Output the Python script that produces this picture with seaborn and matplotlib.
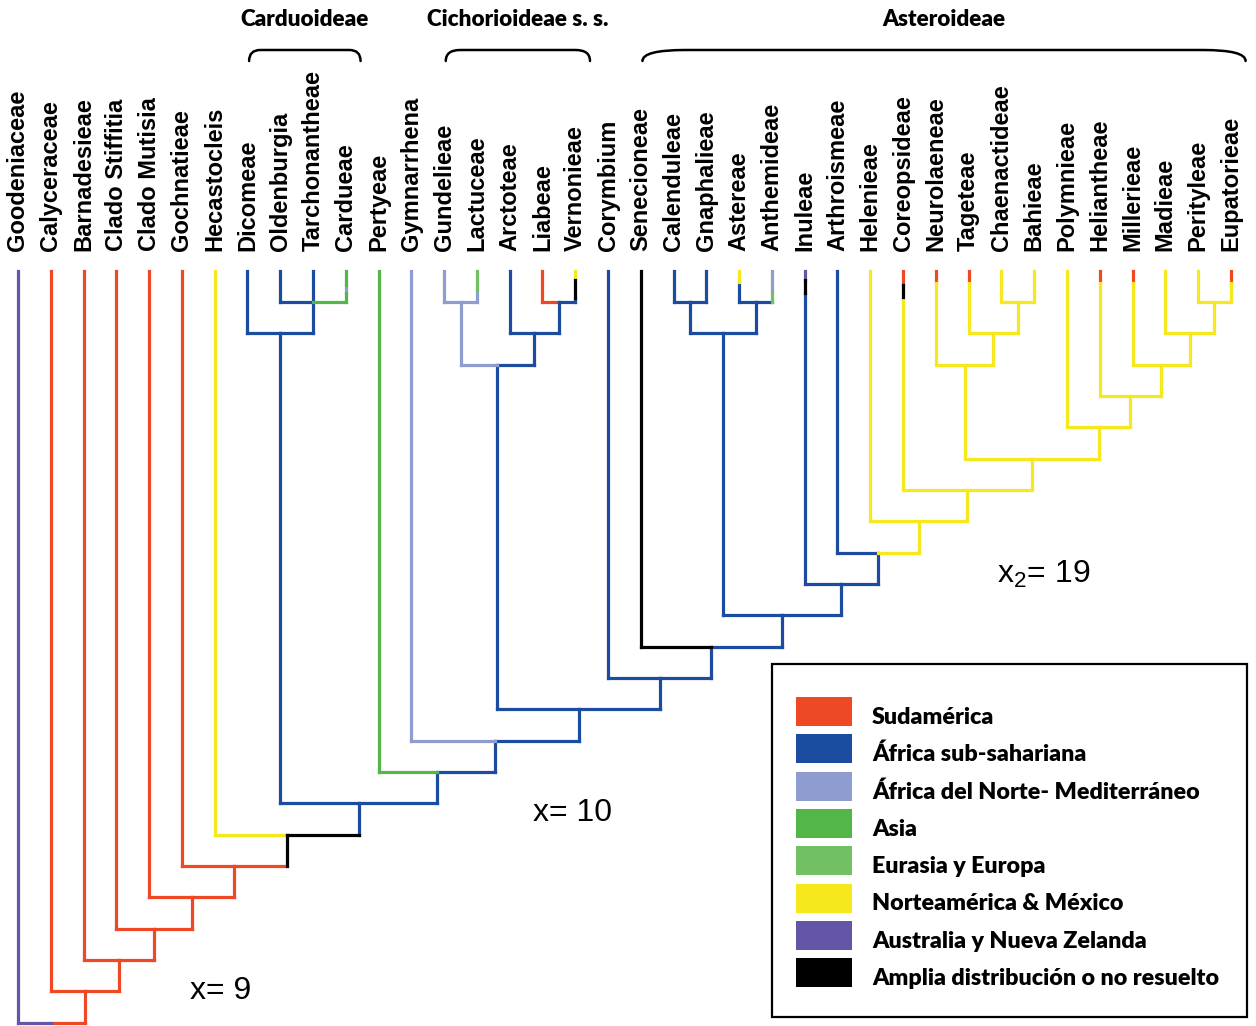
import matplotlib
matplotlib.use("Agg")
import matplotlib.pyplot as plt
import numpy as np
import pandas as pd
import seaborn as sns
from matplotlib.path import Path
from matplotlib.patches import PathPatch, Rectangle

# ---------------------------------------------------------------- data
taxa = ["Goodeniaceae", "Calyceraceae", "Barnadesieae", "Clado Stiffitia", "Clado Mutisia",
        "Gochnatieae", "Hecastocleis", "Dicomeae", "Oldenburgia", "Tarchonantheae",
        "Cardueae", "Pertyeae", "Gymnarrhena", "Gundelieae", "Lactuceae", "Arctoteae",
        "Liabeae", "Vernonieae", "Corymbium", "Senecioneae", "Calenduleae", "Gnaphalieae",
        "Astereae", "Anthemideae", "Inuleae", "Arthroismeae", "Helenieae", "Coreopsideae",
        "Neurolaeneae", "Tageteae", "Chaenactideae", "Bahieae", "Polymnieae", "Heliantheae",
        "Millerieae", "Madieae", "Perityleae", "Eupatorieae"]

# colour bands along each terminal branch: (region, depth where the band ends);
# None means the band runs down to the parent node
tip_regions = [
    [("AUS", None)],
    [("SA", None)], [("SA", None)], [("SA", None)], [("SA", None)], [("SA", None)],
    [("NAM", None)],
    [("AF", None)], [("AF", None)], [("AF", None)],
    [("AS", 0.45), ("NMED", 0.72), ("AS", None)],
    [("AS", None)],
    [("NMED", None)],
    [("NMED", None)],
    [("EU", 0.62), ("NMED", None)],
    [("AF", None)],
    [("SA", None)],
    [("NAM", 0.3), ("WIDE", 0.88), ("AF", None)],
    [("AF", None)],
    [("WIDE", None)],
    [("AF", None)], [("AF", None)],
    [("NAM", 0.35), ("AF", None)],
    [("NMED", 0.68), ("EU", None)],
    [("AUS", 0.3), ("WIDE", 0.72), ("AF", None)],
    [("AF", None)],
    [("NAM", None)],
    [("SA", 0.45), ("WIDE", 0.85), ("NAM", None)],
    [("SA", 0.38), ("NAM", None)],
    [("SA", 0.38), ("NAM", None)],
    [("NAM", None)], [("NAM", None)], [("NAM", None)],
    [("SA", 0.38), ("NAM", None)],
    [("SA", 0.38), ("NAM", None)],
    [("NAM", None)], [("NAM", None)],
    [("SA", 0.38), ("NAM", None)],
]

# internal nodes in post-order: rank level, children, colour left / right of the
# node on the connecting bar, colour of the stem below the node
node_ids = ["Card3", "Carduo", "GuLa", "LiVe", "ArLV", "Cichor", "CaGn", "AsAn", "CGAA",
            "ChBa", "TaCB", "NeTC", "PeEu", "MaPE", "MiMP", "HeMi", "PoHe", "Helian",
            "CoHe", "HlCo", "ArHl", "InAr", "Aster", "SeAs", "CoSe", "CiCo", "GyCi",
            "PeGy", "CdPe", "HeCd", "GoHe", "MuGo", "StMu", "BaSt", "CaBa", "root"]
node_levels = [1, 2, 1, 1, 2, 3, 1, 1, 2,
               1, 2, 3, 1, 2, 3, 4, 5, 6,
               7, 8, 9, 10, 11, 12, 13, 14, 15,
               16, 17, 18, 19, 20, 21, 22, 23, 24]
node_children = [
    ["Oldenburgia", "Tarchonantheae", "Cardueae"], ["Dicomeae", "Card3"],
    ["Gundelieae", "Lactuceae"], ["Liabeae", "Vernonieae"], ["Arctoteae", "LiVe"],
    ["GuLa", "ArLV"], ["Calenduleae", "Gnaphalieae"], ["Astereae", "Anthemideae"],
    ["CaGn", "AsAn"], ["Chaenactideae", "Bahieae"], ["Tageteae", "ChBa"],
    ["Neurolaeneae", "TaCB"], ["Perityleae", "Eupatorieae"], ["Madieae", "PeEu"],
    ["Millerieae", "MaPE"], ["Heliantheae", "MiMP"], ["Polymnieae", "HeMi"],
    ["NeTC", "PoHe"], ["Coreopsideae", "Helian"], ["Helenieae", "CoHe"],
    ["Arthroismeae", "HlCo"], ["Inuleae", "ArHl"], ["CGAA", "InAr"],
    ["Senecioneae", "Aster"], ["Corymbium", "SeAs"], ["Cichor", "CoSe"],
    ["Gymnarrhena", "CiCo"], ["Pertyeae", "GyCi"], ["Carduo", "PeGy"],
    ["Hecastocleis", "CdPe"], ["Gochnatieae", "HeCd"], ["Clado Mutisia", "GoHe"],
    ["Clado Stiffitia", "MuGo"], ["Barnadesieae", "StMu"], ["Calyceraceae", "BaSt"],
    ["Goodeniaceae", "CaBa"]]
node_left = ["AF", "AF", "NMED", "SA", "AF", "NMED", "AF", "AF", "AF",
             "NAM", "NAM", "NAM", "NAM", "NAM", "NAM", "NAM", "NAM", "NAM",
             "NAM", "NAM", "AF", "AF", "AF", "WIDE", "AF", "AF", "NMED",
             "AS", "AF", "NAM", "SA", "SA", "SA", "SA", "SA", "AUS"]
node_right = ["AS", "AF", "NMED", "AF", "AF", "AF", "AF", "AF", "AF",
              "NAM", "NAM", "NAM", "NAM", "NAM", "NAM", "NAM", "NAM", "NAM",
              "NAM", "NAM", "NAM", "AF", "AF", "AF", "AF", "AF", "AF",
              "AF", "AF", "WIDE", "SA", "SA", "SA", "SA", "SA", "SA"]
node_stem = ["AF", "AF", "NMED", "AF", "AF", "AF", "AF", "AF", "AF",
             "NAM", "NAM", "NAM", "NAM", "NAM", "NAM", "NAM", "NAM", "NAM",
             "NAM", "NAM", "AF", "AF", "AF", "AF", "AF", "AF", "AF",
             "AF", "AF", "WIDE", "SA", "SA", "SA", "SA", "SA", None]

region_codes = ["SA", "AF", "NMED", "AS", "EU", "NAM", "AUS", "WIDE"]
region_labels = ["Sudamérica", "África sub-sahariana", "África del Norte- Mediterráneo",
                 "Asia", "Eurasia y Europa", "Norteamérica & México",
                 "Australia y Nueva Zelanda", "Amplia distribución o no resuelto"]
region_colors = ["#EE4824", "#1B4C9F", "#8F9CD0", "#52B747", "#72C064", "#F7E81E",
                 "#6455A6", "#000000"]

clade_names = ["Carduoideae", "Cichorioideae s. s.", "Asteroideae"]
clade_first = ["Dicomeae", "Gundelieae", "Senecioneae"]
clade_last = ["Cardueae", "Vernonieae", "Eupatorieae"]

chromosome_labels = ["x= 9", "x= 10", r"x$_{\mathregular{2}}$= 19"]

# ---------------------------------------------------------------- layout
W, H, DPI = 1256, 1026, 100
X0, DX = 18.0, 32.78      # pixel column of first tip, pixels per tip
Y0, DY = 270.7, 31.33     # pixel row of the tips, pixels per rank level


def px2x(px):
    return (px - X0) / DX


def px2y(py):
    return (py - Y0) / DY


sns.set_theme(style="white")
plt.rcParams["font.family"] = ["Liberation Sans", "DejaVu Sans"]

fig = plt.figure(figsize=(W / DPI, H / DPI), dpi=DPI)
ax = fig.add_axes([0, 0, 1, 1])

# tree geometry
pos = {name: float(i) for i, name in enumerate(taxa)}
level = {name: 0.0 for name in taxa}
parent = {}
for nid, lvl, ch in zip(node_ids, node_levels, node_children):
    pos[nid] = float(np.mean([pos[c] for c in ch]))
    level[nid] = float(lvl)
    for c in ch:
        parent[c] = nid

rows = []


def add_segment(x0, y0, x1, y1, region):
    sid = len(rows) // 2
    rows.append((sid, x0, y0, region))
    rows.append((sid, x1, y1, region))


for nid, ch, left, right, stem in zip(node_ids, node_children, node_left, node_right, node_stem):
    xs = [pos[c] for c in ch]
    add_segment(min(xs), level[nid], pos[nid], level[nid], left)
    add_segment(pos[nid], level[nid], max(xs), level[nid], right)
    if stem is not None and nid in parent:
        add_segment(pos[nid], level[nid], pos[nid], level[parent[nid]], stem)

for name, bands in zip(taxa, tip_regions):
    top = 0.0
    for region, end in bands:
        bottom = level[parent[name]] if end is None else end
        add_segment(pos[name], top, pos[name], bottom, region)
        top = bottom

segments = pd.DataFrame(rows, columns=["seg", "x", "y", "region"])
palette = dict(zip(region_codes, region_colors))

sns.lineplot(data=segments, x="x", y="y", hue="region", hue_order=region_codes,
             units="seg", estimator=None, sort=False, palette=palette, legend=False,
             linewidth=2.3, solid_capstyle="projecting", ax=ax)

ax.set_xlim(px2x(0), px2x(W))
ax.set_ylim(px2y(H), px2y(0))
ax.set_axis_off()

# tip labels
for name in taxa:
    ax.text(pos[name], px2y(251), name, rotation=90, ha="center", va="bottom",
            fontsize=17, fontweight="bold", family="Liberation Sans", color="black")

renderer = fig.canvas.get_renderer()
HEAVY = 800


def fitted_size(text, target_px, **kw):
    t = fig.text(0, 0, text, fontsize=10, **kw)
    w = t.get_window_extent(renderer=renderer).width
    t.remove()
    return 10.0 * target_px / w


# subfamily brackets
clade_fs = fitted_size("Cichorioideae s. s.", 182, family="Lato", fontweight=HEAVY)
y_top, y_end = px2y(50), px2y(61)
for cname, first, last in zip(clade_names, clade_first, clade_last):
    x0 = pos[first] + 0.05
    x1 = pos[last] + 0.45
    r = float(np.clip(0.1 * (x1 - x0), 0.3, 1.3))
    verts = [(x0, y_end), (x0, y_top), (x0 + r, y_top), (x1 - r, y_top),
             (x1, y_top), (x1, y_end)]
    codes = [Path.MOVETO, Path.CURVE3, Path.CURVE3, Path.LINETO, Path.CURVE3, Path.CURVE3]
    ax.add_patch(PathPatch(Path(verts, codes), fill=False, lw=1.8, ec="black",
                           capstyle="round"))
    ax.text((x0 + x1) / 2, px2y(26.5), cname, ha="center", va="baseline",
            fontsize=clade_fs, fontweight=HEAVY, family="Lato", color="black")

# base chromosome numbers
chrom_px = [(190, 999), (533, 821), (997, 583)]
for label, (lx, ly) in zip(chromosome_labels, chrom_px):
    ax.text(px2x(lx), px2y(ly), label, ha="left", va="baseline", fontsize=23,
            family="Liberation Sans", color="black")

# legend box
fig.patches.append(Rectangle((772 / W, 1 - 1017 / H), (1247 - 772) / W, (1017 - 664) / H,
                             transform=fig.transFigure, fill=False, lw=1.6,
                             ec="black", zorder=5))
leg_fs = fitted_size(region_labels[-1], 348, family="Lato", fontweight=HEAVY)
for k, (lab, col) in enumerate(zip(region_labels, region_colors)):
    top = 697 + 37.3 * k
    fig.patches.append(Rectangle((796 / W, 1 - (top + 29) / H), 56 / W, 29 / H,
                                 transform=fig.transFigure, fc=col, ec="none", zorder=5))
    fig.text(872 / W, 1 - (top + 27) / H, lab, ha="left", va="baseline",
             fontsize=leg_fs, fontweight=HEAVY, family="Lato", color="black")

fig.savefig("out.png", dpi=DPI, facecolor="white")
